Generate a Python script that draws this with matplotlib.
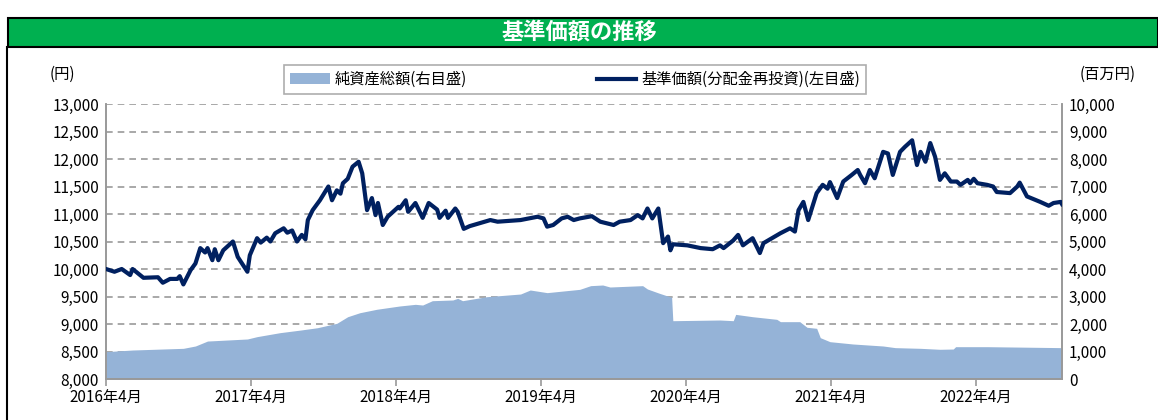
import matplotlib
matplotlib.use("Agg")
from matplotlib import pyplot as plt
from matplotlib.patches import Rectangle
from matplotlib.lines import Line2D
from matplotlib.patches import Patch
from matplotlib.ticker import FuncFormatter

plt.rcParams['font.family'] = ['Noto Sans CJK JP', 'DejaVu Sans']

# months since 2016年4月
price_month = [0.0, 0.7, 1.3, 2.0, 2.2, 3.1, 4.3, 4.7, 5.3, 5.9, 6.1, 6.4, 7.0, 7.4,
               7.8, 8.2, 8.4, 8.8, 9.0, 9.3, 9.7, 10.5, 10.9, 11.7, 11.9, 12.5, 12.8,
               13.3, 13.6, 14.0, 14.7, 15.0, 15.4, 15.8, 16.2, 16.5, 16.7, 17.1, 17.7,
               18.4, 18.7, 19.1, 19.4, 19.6, 20.0, 20.4, 20.9, 21.2, 21.6, 22.0, 22.3,
               22.5, 22.9, 23.3, 24.2, 24.3, 24.8, 25.0, 25.6, 26.2, 26.7, 27.4, 27.6,
               28.1, 28.3, 28.9, 29.1, 29.6, 30.1, 31.8, 32.4, 34.3, 35.7, 36.2, 36.5,
               37.0, 37.7, 38.2, 38.7, 39.2, 40.2, 40.9, 42.0, 42.5, 43.4, 44.0, 44.4,
               44.8, 45.2, 45.7, 46.1, 46.5, 46.7, 46.9, 48.1, 49.2, 50.2, 50.8, 51.1,
               51.9, 52.3, 52.7, 53.5, 53.7, 54.1, 54.4, 55.1, 55.8, 56.6, 57.0, 57.3,
               57.7, 58.1, 58.8, 59.3, 59.7, 59.9, 60.5, 61.0, 61.7, 62.2, 62.4, 62.8,
               63.2, 63.6, 64.3, 64.7, 65.1, 65.7, 66.1, 66.7, 67.1, 67.4, 67.8, 68.2,
               68.6, 69.0, 69.4, 69.9, 70.4, 70.7, 71.3, 71.5, 71.8, 72.1, 72.9, 73.4,
               73.7, 74.8, 75.4, 75.6, 76.2, 77.3, 78.0, 78.4, 79.0, 79.1]
price = [10000, 9950, 10000, 9890, 10000, 9840, 9850, 9750, 9820, 9820, 9870, 9720,
         9980, 10100, 10380, 10300, 10380, 10160, 10360, 10160, 10340, 10500, 10220,
         9950, 10250, 10560, 10480, 10570, 10500, 10650, 10740, 10660, 10700, 10500,
         10620, 10540, 10890, 11070, 11250, 11500, 11250, 11430, 11370, 11560, 11640,
         11860, 11950, 11740, 11070, 11290, 10980, 11200, 10800, 10950, 11130, 11100,
         11250, 11040, 11200, 10930, 11200, 11080, 10930, 11060, 10930, 11100, 11040,
         10730, 10780, 10890, 10860, 10890, 10950, 10920, 10770, 10800, 10920, 10950,
         10890, 10920, 10960, 10860, 10800, 10860, 10890, 10980, 10920, 11100, 10920,
         11100, 10470, 10590, 10340, 10450, 10430, 10380, 10360, 10430, 10380, 10520,
         10620, 10430, 10560, 10470, 10290, 10470, 10560, 10650, 10740, 10680, 11070,
         11220, 10890, 11380, 11530, 11460, 11580, 11290, 11590, 11710, 11800, 11710,
         11560, 11800, 11650, 12130, 12100, 11710, 12130, 12220, 12340, 11890, 12130,
         11950, 12290, 12040, 11620, 11740, 11590, 11590, 11530, 11620, 11560, 11640,
         11560, 11530, 11500, 11400, 11380, 11500, 11570, 11320, 11220, 11150, 11200,
         11220, 11180]

nav_month = [0.0, 2.2, 6.4, 7.4, 8.4, 11.7, 12.5, 14.4, 16.1, 17.5, 19.1, 20.0, 21.0,
             22.4, 24.3, 25.6, 26.2, 27.0, 28.7, 29.1, 29.5, 31.5, 34.3, 35.1, 36.5,
             39.2, 40.1, 41.1, 41.7, 44.4, 44.8, 45.8, 46.8, 46.9, 50.8, 51.9, 52.1,
             53.5, 55.5, 55.8, 57.4, 58.0, 58.8, 59.1, 59.9, 61.8, 64.3, 65.3, 67.4,
             69.0, 70.1, 70.3, 72.9, 75.6, 79.1]
nav = [994, 1054, 1115, 1200, 1380, 1455, 1540, 1685, 1780, 1865, 2025, 2265, 2410,
       2535, 2655, 2715, 2690, 2847, 2873, 2934, 2847, 2993, 3090, 3236, 3140, 3260,
       3394, 3418, 3345, 3394, 3272, 3115, 2970, 2120, 2145, 2120, 2350, 2265, 2170,
       2085, 2085, 1880, 1843, 1503, 1357, 1273, 1200, 1140, 1115, 1080, 1090, 1175,
       1175, 1160, 1140]

tick_month = [0, 12, 24, 36, 48, 60, 72]
tick_labels = ['2016年4月', '2017年4月', '2018年4月', '2019年4月',
               '2020年4月', '2021年4月', '2022年4月']

fig = plt.figure(figsize=(11.58, 4.2), dpi=100)

# title banner
fig.patches.append(Rectangle((8 / 1158, 1 - 47 / 420), 1150 / 1158, 29 / 420,
                             transform=fig.transFigure, facecolor='#00B050',
                             edgecolor='black', linewidth=1.5))
fig.lines.append(Line2D([7 / 1158, 7 / 1158], [0, 1 - 47 / 420],
                        transform=fig.transFigure, color='black', linewidth=1.5))
fig.text(0.5, 1 - 32 / 420, '基準価額の推移', ha='center', va='center',
         color='white', fontsize=16, fontweight='bold')

ax2 = fig.add_axes([106 / 1158, 1 - 379 / 420, 956 / 1158, 275 / 420])
ax = ax2.twinx()
ax2.yaxis.tick_right()
ax.yaxis.tick_left()
ax.yaxis.set_label_position('left')

# grid sits behind the area, so draw it on the bottom axes
for v in range(1000, 10001, 1000):
    ax2.axhline(v, color='#999999', linestyle=(0, (4, 3)), linewidth=1.2, zorder=0.5)

ax2.fill_between(nav_month, nav, 0, color='#95B3D7', linewidth=0, zorder=1)
ax2.set_ylim(0, 10000)
ax2.set_yticks(range(0, 10001, 1000))
ax2.yaxis.set_major_formatter(FuncFormatter(lambda v, p: f'{int(v):,}'))

ax.plot(price_month, price, color='#002060', linewidth=3, solid_joinstyle='round',
        zorder=3)
ax.set_ylim(8000, 13000)
ax.set_yticks(range(8000, 13001, 500))
ax.yaxis.set_major_formatter(FuncFormatter(lambda v, p: f'{int(v):,}'))

ax2.set_xlim(0, 79.1)
ax2.set_xticks(tick_month)
ax2.set_xticklabels(tick_labels)

for a in (ax, ax2):
    a.spines['top'].set_visible(False)
    for s in ('left', 'right', 'bottom'):
        a.spines[s].set_color('#999999')
        a.spines[s].set_linewidth(1.2)
    a.tick_params(axis='both', colors='#999999', labelcolor='black', labelsize=11,
                  length=0, pad=5)
ax2.tick_params(axis='x', length=5, width=1.2, pad=2)

fig.text(62 / 1158, 1 - 74 / 420, '(円)', ha='center', va='center', fontsize=11)
fig.text(1108 / 1158, 1 - 74 / 420, '(百万円)', ha='center', va='center', fontsize=11)

handles = [Patch(facecolor='#95B3D7', edgecolor='none'),
           Line2D([], [], color='#002060', linewidth=3)]
leg = fig.legend(handles, ['純資産総額(右目盛)', '基準価額(分配金再投資)(左目盛)'],
                 loc='center', ncol=2, frameon=True, fancybox=False, fontsize=11,
                 columnspacing=8.5, handlelength=2.6, handletextpad=0.3,
                 borderaxespad=0, mode=None)
leg.set_bbox_to_anchor((140 / 1158, 1 - 96 / 420, 870 / 1158, 33 / 420),
                       transform=fig.transFigure)
leg.get_frame().set_edgecolor('#999999')
leg.get_frame().set_linewidth(1.2)

fig.savefig('out.png', dpi=100)
